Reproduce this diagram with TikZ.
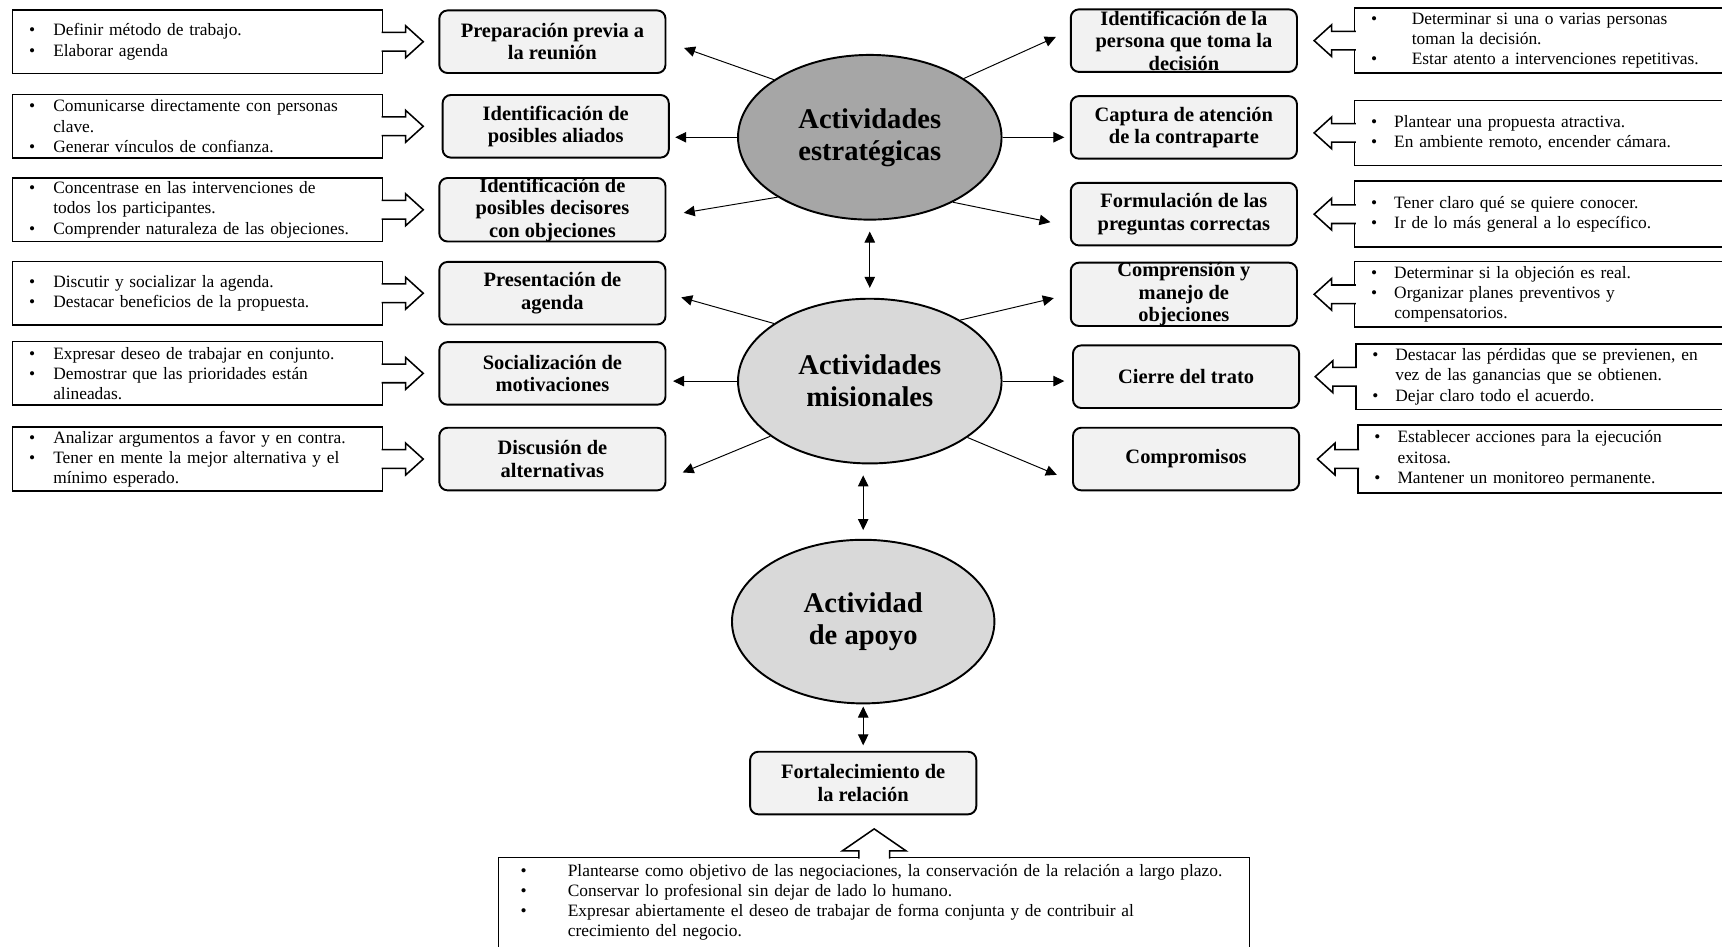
\documentclass[tikz,border=0pt]{standalone}
\usepackage{fontspec}
\setmainfont{Liberation Serif}
\usepackage{tikz}
\usetikzlibrary{shapes,arrows.meta,positioning,calc}
\definecolor{ovaldark}{RGB}{166,166,166}
\definecolor{ovallight}{RGB}{217,217,217}
\definecolor{boxgray}{RGB}{242,242,242}
\newcommand{\itembul}[2][0.44cm]{\mbox{\makebox[#1][l]{\textbullet}#2}}
\newcommand{\itemcont}[2][0.44cm]{\mbox{\hspace*{#1}#2}}
\newcommand{\pointright}[1]{%
  \draw[blockarrow] ([xshift=-1pt,yshift=0.17cm]#1.east) -- ++(0.44cm,0) -- ++(0,0.12cm)
    -- ++(0.32cm,-0.29cm) -- ++(-0.32cm,-0.29cm) -- ++(0,0.12cm) -- ++(-0.44cm,0);}
\newcommand{\pointleft}[1]{%
  \draw[blockarrow] ([xshift=1pt,yshift=0.17cm]#1.west) -- ++(-0.44cm,0) -- ++(0,0.12cm)
    -- ++(-0.32cm,-0.29cm) -- ++(0.32cm,-0.29cm) -- ++(0,0.12cm) -- ++(0.44cm,0);}
\newcommand{\pointup}[1]{%
  \draw[blockarrow] ([xshift=-0.28cm,yshift=-1pt]#1.north) -- ++(0,0.14cm) -- ++(-0.3cm,0)
    -- ++(0.58cm,0.4cm) -- ++(0.58cm,-0.4cm) -- ++(-0.3cm,0) -- ++(0,-0.14cm);}

\begin{document}
\begin{tikzpicture}[
    x=0.02cm, y=-0.02cm,
    box/.style={rectangle, draw, line width=1pt, rounded corners=0.15cm, fill=boxgray, align=center, minimum width=4.12cm, minimum height=1.14cm, inner sep=0pt, font=\bfseries\fontsize{10.6}{11.6}\selectfont},
    oval/.style={ellipse, draw, line width=1pt, align=center, minimum width=4.8cm, minimum height=3cm, inner sep=0pt, font=\bfseries\fontsize{14.8}{16.6}\selectfont},
    notebox/.style={rectangle, draw, line width=0.8pt, fill=white, align=left, text width=6.14cm, inner xsep=0.3cm, inner ysep=0.05cm, minimum height=1.16cm, font=\fontsize{9}{10.5}\selectfont},
    arrow/.style={-{Triangle[length=0.2cm,width=0.19cm]}, line width=0.5pt},
    dblarrow/.style={{Triangle[length=0.2cm,width=0.19cm]}-{Triangle[length=0.2cm,width=0.19cm]}, line width=0.5pt},
    blockarrow/.style={draw, fill=white, line width=0.8pt}
]
    \useasboundingbox (0,0) rectangle (1568,862);

    % central activities
    \node[oval, fill=ovaldark] (est) at (792,125) {Actividades\\estratégicas};
    \node[oval, fill=ovallight] (mis) at (792,347) {Actividades\\misionales};
    \node[oval, fill=ovallight, minimum width=4.78cm, minimum height=2.98cm] (apo) at (786,566) {Actividad\\de apoyo};

    % left column
    \node[box] (prep) at (503,38) {Preparación previa a\\la reunión};
    \node[box] (ali) at (506,115) {Identificación de\\posibles aliados};
    \node[box] (dec) at (503,191) {Identificación de\\posibles decisores\\con objeciones};
    \node[box] (agd) at (503,267) {Presentación de\\agenda};
    \node[box] (soc) at (503,340) {Socialización de\\motivaciones};
    \node[box] (dis) at (503,418) {Discusión de\\alternativas};

    % right column
    \node[box] (per) at (1078,37) {Identificación de la\\persona que toma la\\decisión};
    \node[box] (cap) at (1078,116) {Captura de atención\\de la contraparte};
    \node[box] (pre) at (1078,195) {Formulación de las\\preguntas correctas};
    \node[box] (com) at (1078,268) {Comprensión y\\manejo de\\objeciones};
    \node[box] (cie) at (1080,343) {Cierre del trato};
    \node[box] (cpm) at (1080,418) {Compromisos};

    \node[box] (fort) at (786,713) {Fortalecimiento de\\la relación};

    % notes on the left
    \node[notebox, left=1cm of prep] (lnote1) {\itembul{Definir método de trabajo.}\\\itembul{Elaborar agenda}};
    \node[notebox, left=1.06cm of ali] (lnote2) {\itembul{Comunicarse directamente con personas}\\\itemcont{clave.}\\\itembul{Generar vínculos de confianza.}};
    \node[notebox, left=1cm of dec] (lnote3) {\itembul{Concentrase en las intervenciones de}\\\itemcont{todos los participantes.}\\\itembul{Comprender naturaleza de las objeciones.}};
    \node[notebox, left=1cm of agd] (lnote4) {\itembul{Discutir y socializar la agenda.}\\\itembul{Destacar beneficios de la propuesta.}};
    \node[notebox, left=1cm of soc] (lnote5) {\itembul{Expresar deseo de trabajar en conjunto.}\\\itembul{Demostrar que las prioridades están}\\\itemcont{alineadas.}};
    \node[notebox, left=1cm of dis] (lnote6) {\itembul{Analizar argumentos a favor y en contra.}\\\itembul{Tener en mente la mejor alternativa y el}\\\itemcont{mínimo esperado.}};

    % notes on the right
    \node[notebox, right=1.02cm of per, minimum height=1.18cm] (rnote1) {\itembul[0.74cm]{Determinar si una o varias personas}\\\itemcont[0.74cm]{toman la decisión.}\\\itembul[0.74cm]{Estar atento a intervenciones repetitivas.}};
    \node[notebox, right=1.02cm of cap, minimum height=1.18cm, yshift=-0.1cm] (rnote2) {\itembul[0.42cm]{Plantear una propuesta atractiva.}\\\itembul[0.42cm]{En ambiente remoto, encender cámara.}};
    \node[notebox, right=1.02cm of pre, minimum height=1.2cm] (rnote3) {\itembul[0.42cm]{Tener claro qué se quiere conocer.}\\\itembul[0.42cm]{Ir de lo más general a lo específico.}};
    \node[notebox, right=1.02cm of com, minimum height=1.2cm] (rnote4) {\itembul[0.42cm]{Determinar si la objeción es real.}\\\itembul[0.42cm]{Organizar planes preventivos y}\\\itemcont[0.42cm]{compensatorios.}};
    \node[notebox, right=1cm of cie, minimum height=1.2cm] (rnote5) {\itembul[0.42cm]{Destacar las pérdidas que se previenen, en}\\\itemcont[0.42cm]{vez de las ganancias que se obtienen.}\\\itembul[0.42cm]{Dejar claro todo el acuerdo.}};
    \node[notebox, right=1.04cm of cpm, minimum height=1.24cm] (rnote6) {\itembul[0.42cm]{Establecer acciones para la ejecución}\\\itemcont[0.42cm]{exitosa.}\\\itembul[0.42cm]{Mantener un monitoreo permanente.}};

    % note below
    \node[notebox, anchor=north, text width=12.88cm, inner xsep=0.4cm, inner ysep=0.12cm] (bnote) at (796,780) {\itembul[0.86cm]{Plantearse como objetivo de las negociaciones, la conservación de la relación a largo plazo.}\\\itembul[0.86cm]{Conservar lo profesional sin dejar de lado lo humano.}\\\itembul[0.86cm]{Expresar abiertamente el deseo de trabajar de forma conjunta y de contribuir al}\\\itemcont[0.86cm]{crecimiento del negocio.\rule[-0.4cm]{0pt}{0pt}}};

    \foreach \i in {1,...,6} {\pointright{lnote\i}}
    \foreach \i in {1,...,6} {\pointleft{rnote\i}}
    \pointup{bnote}

    % links
    \draw[arrow, shorten >=0.34cm] (est.149) -- (prep.east);
    \draw[arrow, shorten >=0.1cm] (est.west) -- (est.west -| ali.east);
    \draw[arrow, shorten >=0.32cm] (est.213) -- (dec.-3);
    \draw[arrow, shorten >=0.28cm] (est.32) -- (per.175);
    \draw[arrow, shorten >=0.1cm] (est.east) -- (est.east -| cap.west);
    \draw[arrow, shorten >=0.36cm] (est.-38) -- (pre.186);

    \draw[arrow, shorten >=0.28cm] (mis.149) -- (agd.east);
    \draw[arrow, shorten >=0.12cm] (mis.west) -- (mis.west -| soc.east);
    \draw[arrow, shorten >=0.32cm] (mis.209) -- (dis.-10);
    \draw[arrow, shorten >=0.3cm] (mis.34) -- (com.west);
    \draw[arrow, shorten >=0.14cm] (mis.east) -- (mis.east -| cie.west);
    \draw[arrow, shorten >=0.3cm] (mis.-30) -- (cpm.191);

    \draw[dblarrow, shorten <=0.2cm, shorten >=0.18cm] (est.south) -- (mis.north);
    \draw[dblarrow, shorten <=0.2cm, shorten >=0.16cm] (apo.north |- mis.south) -- (apo.north);
    \draw[dblarrow, shorten <=0.04cm, shorten >=0.1cm] (apo.south) -- (fort.north);
\end{tikzpicture}
\end{document}
